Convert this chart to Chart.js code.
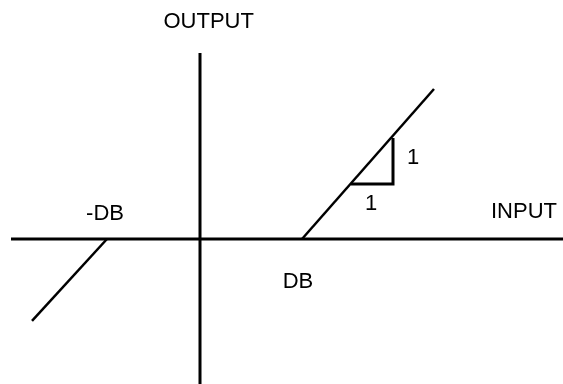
<!DOCTYPE html>
<html>
<head>
<meta charset="utf-8">
<script src="https://cdn.jsdelivr.net/npm/chart.js@4/dist/chart.umd.min.js"></script>
<style>
  html, body { margin: 0; padding: 0; background: #fff; }
  #wrap { width: 563px; height: 384px; position: relative; }
</style>
</head>
<body>
<div id="wrap"><canvas id="dbChart"></canvas></div>
<script>
// Deadband characteristic, data units (DB is about 1)
const inputAxis = [[-1.89, 0], [3.63, 0]];
const outputAxis = [[0, 1.69], [0, -1.35]];
const upperBranch = [[1.02, 0], [2.34, 1.364]];
const lowerBranch = [[-0.93, 0], [-1.68, -0.745]];
const slopeTriangle = [[1.51, 0.5], [1.93, 0.5], [1.93, 0.918]];

const labelText = ['OUTPUT', 'INPUT', '-DB', 'DB', '1', '1'];
const labelX = [0.087, 3.24, -0.95, 0.98, 2.13, 1.71];
const labelY = [1.922, 0.187, 0.169, -0.445, 0.678, 0.26];

function toPoints(arr) {
  return arr.map(p => ({ x: p[0], y: p[1] }));
}

function seg(arr, width) {
  return {
    data: toPoints(arr),
    showLine: true,
    borderColor: '#000',
    borderWidth: width,
    pointRadius: 0,
    borderJoinStyle: 'miter',
    clip: false
  };
}

// draws the text labels at data positions
const textLabels = {
  id: 'textLabels',
  afterDatasetsDraw(chart) {
    const ctx = chart.ctx;
    const xs = chart.scales.x, ys = chart.scales.y;
    ctx.save();
    ctx.fillStyle = '#000';
    ctx.font = '22px "Liberation Sans", Arial, sans-serif';
    ctx.textAlign = 'center';
    ctx.textBaseline = 'alphabetic';
    labelText.forEach((t, i) => {
      ctx.fillText(t, xs.getPixelForValue(labelX[i]), ys.getPixelForValue(labelY[i]));
    });
    ctx.restore();
  }
};

const ctx = document.getElementById('dbChart').getContext('2d');
new Chart(ctx, {
  type: 'scatter',
  data: {
    datasets: [
      seg(inputAxis, 3),
      seg(outputAxis, 3),
      seg(upperBranch, 2.5),
      seg(lowerBranch, 2.5),
      seg(slopeTriangle, 3)
    ]
  },
  options: {
    responsive: true,
    maintainAspectRatio: false,
    animation: false,
    layout: { padding: 0 },
    plugins: { legend: { display: false }, tooltip: { enabled: false } },
    scales: {
      x: { type: 'linear', min: -2, max: 3.63, display: false },
      y: { type: 'linear', min: -1.318, max: 2.1727, display: false }
    }
  },
  plugins: [textLabels]
});
</script>
</body>
</html>
